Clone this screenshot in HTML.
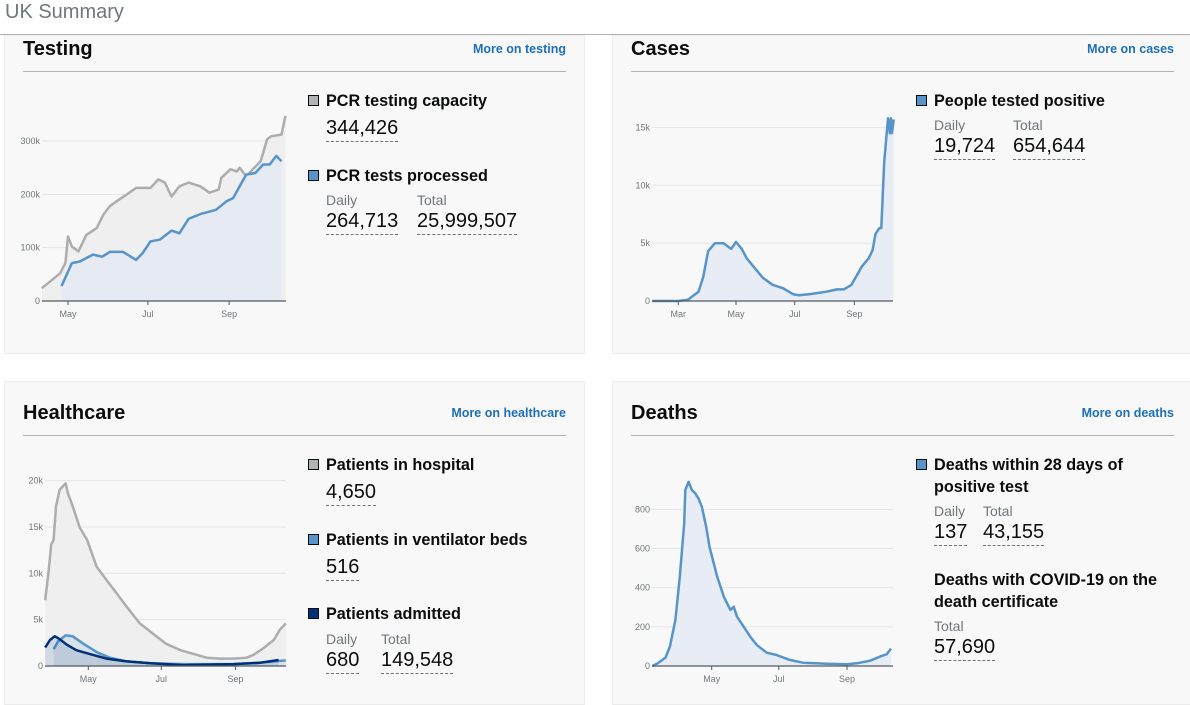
<!DOCTYPE html>
<html><head><meta charset="utf-8">
<style>
body{margin:0;width:1190px;height:703px;overflow:hidden;background:#fff;font-family:"Liberation Sans",sans-serif;position:relative;color:#0b0c0c}
.a{position:absolute;white-space:nowrap}
.panel{position:absolute;background:#f8f8f8;border:1px solid #ececec;box-sizing:border-box}
.h{font-weight:bold;font-size:20px;line-height:24px}
.rule{position:absolute;height:1px;background:#b1b4b6}
.lnk{font-weight:bold;font-size:12.5px;color:#1d70b8;line-height:16px}
.sq{position:absolute;width:9px;height:9px;border:1.5px solid #0b0c0c}
.lab{font-weight:bold;font-size:16.2px;line-height:22px}
.sub{font-size:14px;color:#6f777b;line-height:18px}
.val{font-size:20px;line-height:24px;border-bottom:1px dashed #6f777b;padding-bottom:1px}
svg{position:absolute;left:0;top:0}
</style></head><body>
<div class="a" style="left:5px;top:0;font-size:20px;color:#6f777b;line-height:24px">UK Summary</div>
<div style="position:absolute;left:0;top:34px;width:1190px;height:1px;background:#b1b4b6"></div>

<div class="panel" style="left:4px;top:35px;width:581px;height:319px"></div>
<div class="panel" style="left:612px;top:35px;width:580px;height:319px"></div>
<div class="panel" style="left:4px;top:381px;width:581px;height:324px"></div>
<div class="panel" style="left:612px;top:381px;width:580px;height:324px"></div>

<svg id="chart" width="1190" height="703"></svg>

<!-- Testing -->
<div class="a h" style="left:23px;top:37px">Testing</div>
<div class="a lnk" style="right:624px;top:41px">More on testing</div>
<div class="rule" style="left:23px;top:71px;width:543px"></div>
<div class="sq" style="left:308px;top:95px;background:#b1b4b6"></div>
<div class="a lab" style="left:326px;top:90px">PCR testing capacity</div>
<div class="a val" style="left:326px;top:116px">344,426</div>
<div class="sq" style="left:308px;top:170px;background:#5694ca"></div>
<div class="a lab" style="left:326px;top:165px">PCR tests processed</div>
<div class="a sub" style="left:326px;top:191px">Daily</div>
<div class="a sub" style="left:417px;top:191px">Total</div>
<div class="a val" style="left:326px;top:209px">264,713</div>
<div class="a val" style="left:417px;top:209px">25,999,507</div>

<!-- Cases -->
<div class="a h" style="left:631px;top:37px">Cases</div>
<div class="a lnk" style="right:16px;top:41px">More on cases</div>
<div class="rule" style="left:631px;top:71px;width:543px"></div>
<div class="sq" style="left:916px;top:95px;background:#5694ca"></div>
<div class="a lab" style="left:934px;top:90px">People tested positive</div>
<div class="a sub" style="left:934px;top:116px">Daily</div>
<div class="a sub" style="left:1013px;top:116px">Total</div>
<div class="a val" style="left:934px;top:134px">19,724</div>
<div class="a val" style="left:1013px;top:134px">654,644</div>

<!-- Healthcare -->
<div class="a h" style="left:23px;top:401px">Healthcare</div>
<div class="a lnk" style="right:624px;top:405px">More on healthcare</div>
<div class="rule" style="left:23px;top:435px;width:543px"></div>
<div class="sq" style="left:308px;top:459px;background:#b1b4b6"></div>
<div class="a lab" style="left:326px;top:454px">Patients in hospital</div>
<div class="a val" style="left:326px;top:480px">4,650</div>
<div class="sq" style="left:308px;top:534px;background:#5694ca"></div>
<div class="a lab" style="left:326px;top:529px">Patients in ventilator beds</div>
<div class="a val" style="left:326px;top:555px">516</div>
<div class="sq" style="left:308px;top:608px;background:#003078"></div>
<div class="a lab" style="left:326px;top:603px">Patients admitted</div>
<div class="a sub" style="left:326px;top:630px">Daily</div>
<div class="a sub" style="left:381px;top:630px">Total</div>
<div class="a val" style="left:326px;top:648px">680</div>
<div class="a val" style="left:381px;top:648px">149,548</div>

<!-- Deaths -->
<div class="a h" style="left:631px;top:401px">Deaths</div>
<div class="a lnk" style="right:16px;top:405px">More on deaths</div>
<div class="rule" style="left:631px;top:435px;width:543px"></div>
<div class="sq" style="left:916px;top:459px;background:#5694ca"></div>
<div class="a lab" style="left:934px;top:454px">Deaths within 28 days of<br>positive test</div>
<div class="a sub" style="left:934px;top:502px">Daily</div>
<div class="a sub" style="left:983px;top:502px">Total</div>
<div class="a val" style="left:934px;top:520px">137</div>
<div class="a val" style="left:983px;top:520px">43,155</div>
<div class="a lab" style="left:934px;top:569px">Deaths with COVID-19 on the<br>death certificate</div>
<div class="a sub" style="left:934px;top:617px">Total</div>
<div class="a val" style="left:934px;top:635px">57,690</div>

<script>
// ---- data (day-of-year, values) ----
const capacityDays = [101,107,115,119,121,124,129,135,143,148,153,158,166,173,184,190,195,200,206,213,222,229,236,238,245,250,252,257,262,268,273,276,284,287];
const capacityValues = [24,36,52,71,121,102,93,124,137,162,178,187,200,212,212,228,222,196,215,222,215,203,209,231,247,243,250,234,247,262,303,309,312,347];
const processedDays = [116,124,130,140,147,153,163,173,178,184,191,200,206,213,222,234,242,247,257,264,270,275,280,284];
const processedValues = [28,71,74,87,83,92,92,77,90,112,115,132,127,154,163,171,187,193,237,240,256,256,272,262];
const testingTicks = [0,100,200,300];
const testingTickLabels = ["0","100k","200k","300k"];

const casesDays = [34,61,71,82,87,92,99,108,116,121,127,132,142,149,159,170,180,186,198,215,226,233,241,252,259,263,266,270,272,275,279,281,282,283,285];
const casesValues = [0,0,0.1,0.8,2.1,4.3,5.0,5.0,4.5,5.1,4.5,3.7,2.7,2.0,1.4,1.1,0.6,0.5,0.6,0.8,1.0,1.0,1.4,3.0,3.7,4.4,5.8,6.3,6.3,12.0,15.8,14.5,15.8,14.5,15.7];
const casesTicks = [0,5,10,15];
const casesTickLabels = ["0","5k","10k","15k"];

const hospitalDays = [85,88,90,92,94,97,102,104,107,114,120,128,136,145,153,164,175,186,198,209,220,231,242,253,259,267,276,281,286];
const hospitalValues = [7.1,10.4,13.1,13.6,17.2,19.0,19.7,18.6,17.6,14.9,13.6,10.7,9.3,7.8,6.4,4.6,3.5,2.4,1.7,1.3,0.9,0.8,0.8,0.9,1.2,1.9,2.8,3.9,4.6];
const ventilatorDays = [92,96,102,108,117,128,139,153,173,200,242,264,286];
const ventilatorValues = [1.8,2.7,3.3,3.2,2.4,1.5,0.9,0.5,0.3,0.2,0.2,0.35,0.6];
const admittedDays = [85,89,93,97,103,111,122,136,153,173,200,242,264,280];
const admittedValues = [2.0,2.8,3.2,2.9,2.3,1.7,1.3,0.8,0.5,0.3,0.1,0.2,0.35,0.65];
const healthTicks = [0,5,10,15,20];
const healthTickLabels = ["0","5k","10k","15k","20k"];

const deathsDays = [67,72,79,83,88,92,96,97,100,103,106,109,112,116,119,126,132,138,141,144,150,156,162,171,180,192,204,226,244,253,265,274,280,284];
const deathsValues = [0,14,43,99,235,456,729,899,941,899,882,856,814,711,609,456,354,286,303,252,201,150,107,68,56,31,17,12,9,14,27,48,60,89];
const deathsTicks = [0,200,400,600,800];
const deathsTickLabels = ["0","200","400","600","800"];

const monthDays = {Mar:61,May:121,Jul:182,Sep:244};

const NS='http://www.w3.org/2000/svg';
const svg=document.getElementById('chart');
function mk(tag,attrs){const e=document.createElementNS(NS,tag);for(const k in attrs)e.setAttribute(k,attrs[k]);svg.appendChild(e);return e;}

function axes(name,left,right,base,xs,ys,ticks,labels,months){
  ticks.forEach((t,i)=>{
    const y=ys(t);
    if(i>0){const g=mk('line',{x1:left,x2:right,y1:y,y2:y,stroke:'#e6e6e6','stroke-width':1});
      
      }
    const tx=mk('text',{x:left-2,y:y+3,'text-anchor':'end','font-size':'9','fill':'#6f777b','font-family':'Liberation Sans, sans-serif'});
    tx.textContent=labels[i];
    
    
  });
  months.forEach(m=>{
    const x=xs(monthDays[m]);
    const tk=mk('line',{x1:x,x2:x,y1:base,y2:base+4,stroke:'#505a5f','stroke-width':1});
    
    
    const tx=mk('text',{x:x,y:base+16,'text-anchor':'middle','font-size':'9','fill':'#6f777b','font-family':'Liberation Sans, sans-serif'});
    tx.textContent=m;
    
    
  });
}
function axisLine(name,left,right,base){
  const a=mk('line',{x1:left,x2:right,y1:base,y2:base,stroke:'#505a5f','stroke-width':1.3});
  
  
}
function series(name,days,vals,xs,ys,base,stroke,fill,w){
  const pts=days.map((d,i)=>xs(d).toFixed(1)+','+ys(vals[i]).toFixed(1));
  const area=mk('path',{d:'M'+xs(days[0])+','+base+' L'+pts.join(' L')+' L'+xs(days[days.length-1])+','+base+' Z',fill:fill,stroke:'none'});
  
  
  const ln=mk('polyline',{points:pts.join(' '),fill:'none',stroke:stroke,'stroke-width':w||2.5,'stroke-linejoin':'round'});
  
  
}

// Testing
(function(){
  const left=42,right=286,base=301;
  const xs=d=>68+(d-121)*1.31, ys=v=>base-v*0.5333;
  axes('testing',left,right,base,xs,ys,testingTicks,testingTickLabels,['May','Jul','Sep']);
  series('capacity',capacityDays,capacityValues,xs,ys,base,'#adadad','#efefef');
  series('processed',processedDays,processedValues,xs,ys,base,'#5694ca','#e6ebf3');
  axisLine('testing',left,right,base);
})();
// Cases
(function(){
  const left=652,right=893,base=301;
  const xs=d=>678.3+(d-61)*0.962, ys=v=>base-v*11.57;
  axes('cases',left,right,base,xs,ys,casesTicks,casesTickLabels,['Mar','May','Jul','Sep']);
  series('positive',casesDays,casesValues,xs,ys,base,'#5694ca','#e8edf5');
  axisLine('cases',left,right,base);
})();
// Healthcare
(function(){
  const left=45,right=286,base=666;
  const xs=d=>88.3+(d-121)*1.197, ys=v=>base-v*9.27;
  axes('healthcare',left,right,base,xs,ys,healthTicks,healthTickLabels,['May','Jul','Sep']);
  series('hospital',hospitalDays,hospitalValues,xs,ys,base,'#adadad','#efefef');
  series('ventilator',ventilatorDays,ventilatorValues,xs,ys,base,'#5694ca','rgba(86,148,202,0.15)');
  series('admitted',admittedDays,admittedValues,xs,ys,base,'#003078','rgba(0,48,120,0.12)');
  axisLine('healthcare',left,right,base);
})();
// Deaths
(function(){
  const left=652,right=893,base=666;
  const xs=d=>711.7+(d-121)*1.1, ys=v=>base-v*0.1958;
  axes('deaths',left,right,base,xs,ys,deathsTicks,deathsTickLabels,['May','Jul','Sep']);
  series('deaths28',deathsDays,deathsValues,xs,ys,base,'#5694ca','#e8edf5');
  axisLine('deaths',left,right,base);
})();
</script>
</body></html>
